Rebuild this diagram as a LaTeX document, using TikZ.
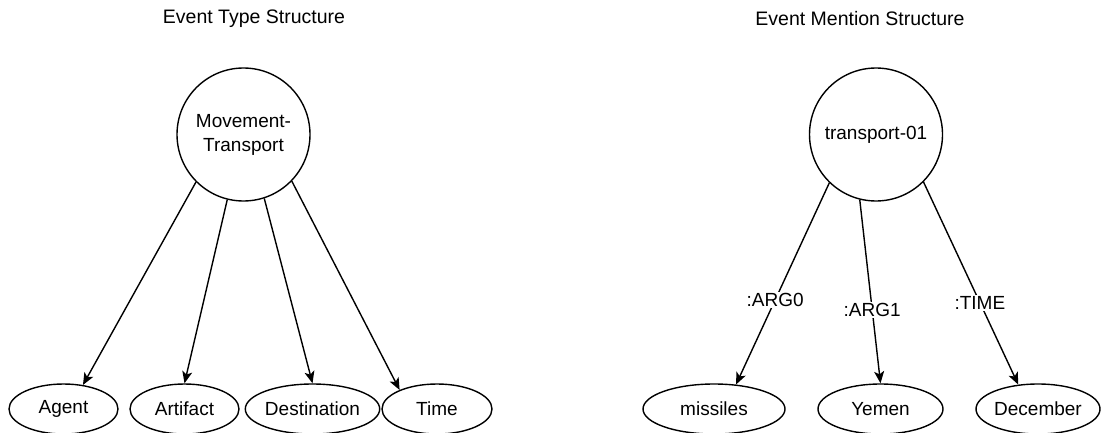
\documentclass[tikz,border=0pt]{standalone}
\usepackage{fontspec}
\setmainfont{Liberation Sans}
\usetikzlibrary{arrows.meta,shapes.geometric}
\begin{document}
\begin{tikzpicture}[x=1pt,y=-1pt,
  every node/.style={font=\fontsize{19}{24}\selectfont},
  circ/.style={draw, circle, line width=1.4pt, minimum size=133pt, inner sep=0pt, align=center},
  ell/.style={draw, ellipse, line width=1.4pt, minimum height=50pt, inner sep=0pt},
  edge/.style={line width=1.4pt, -{Stealth[length=12pt,width=10pt,inset=3pt]}},
  lbl/.style={fill=white, inner sep=1.5pt},
  title/.style={font=\fontsize{19.5}{23}\selectfont}]
\useasboundingbox (0,0) rectangle (1102,433);
\fill[white] (0,0) rectangle (1102,433);
% titles
\node[title] (t1) at (254,19) {Event Type Structure};
\node[title] (t2) at (860,19) {Event Mention Structure};
% left structure
\node[circ] (mt) at (243.5,134.5) {Movement-\\Transport};
\node[ell, minimum width=109pt] (agent) at (63.5,409) {Agent};
\node[ell, minimum width=109pt] (artifact) at (184.5,409) {Artifact};
\node[ell, minimum width=109pt] (destination) at (312.5,409) {Destination};
\node[ell, minimum width=110pt] (time) at (437,409) {Time};
\draw[edge] (mt.-135.6) -- (agent.51);
\draw[edge] (mt.-104) -- (artifact.north);
\draw[edge] (mt.-72.3) -- (destination.north);
\draw[edge] (mt.-44.4) -- (time.153.9);
% right structure
\node[circ] (tr) at (876,134.5) {transport-01};
\node[ell, minimum width=142pt] (missiles) at (714,409) {missiles};
\node[ell, minimum width=125pt] (yemen) at (880.5,409) {Yemen};
\node[ell, minimum width=124pt] (december) at (1038,409) {December};
\draw[edge] (tr.-134.1) -- node[lbl, pos=0.58] {:ARG0} (missiles.48.5);
\draw[edge] (tr.-104) -- node[lbl, pos=0.60] {:ARG1} (yemen.north);
\draw[edge] (tr.-45.5) -- node[lbl, pos=0.595] {:TIME} (december.129.4);
\end{tikzpicture}
\end{document}
